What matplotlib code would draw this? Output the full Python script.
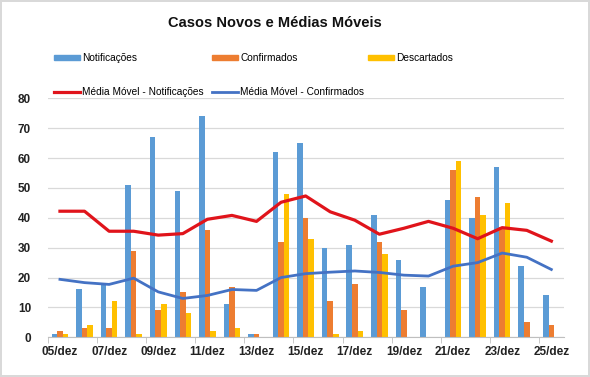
import numpy as np
import matplotlib
matplotlib.use("Agg")
import matplotlib.pyplot as plt
from matplotlib.lines import Line2D
from matplotlib.patches import Patch

plt.rcParams['font.family'] = ['Liberation Sans', 'DejaVu Sans']

dias = ["05/dez", "06/dez", "07/dez", "08/dez", "09/dez", "10/dez", "11/dez",
        "12/dez", "13/dez", "14/dez", "15/dez", "16/dez", "17/dez", "18/dez",
        "19/dez", "20/dez", "21/dez", "22/dez", "23/dez", "24/dez", "25/dez"]
notificacoes = [1, 16, 18, 51, 67, 49, 74, 11, 1, 62, 65, 30, 31, 41, 26, 17, 46, 40, 57, 24, 14]
confirmados = [2, 3, 3, 29, 9, 15, 36, 17, 1, 32, 40, 12, 18, 32, 9, 0, 56, 47, 37, 5, 4]
descartados = [1, 4, 12, 1, 11, 8, 2, 3, 0, 48, 33, 1, 2, 28, 0, 0, 59, 41, 45, 0, 0]
mm_notificacoes = [42.2, 42.2, 35.5, 35.5, 34.2, 34.7, 39.5, 40.8, 38.8, 45.2, 47.3,
                   42.0, 39.2, 34.5, 36.5, 38.8, 36.5, 33.0, 36.7, 35.8, 32.2]
mm_confirmados = [19.4, 18.3, 17.7, 19.8, 15.2, 13.0, 14.0, 16.0, 15.7, 20.0, 21.3,
                  21.8, 22.2, 21.7, 20.8, 20.5, 23.8, 25.0, 28.2, 26.8, 22.7]

C_NOT = "#5B9BD5"
C_CONF = "#ED7D31"
C_DESC = "#FFC000"
C_MMN = "#E0141B"
C_MMC = "#4472C4"

fig = plt.figure(figsize=(5.9, 3.77), dpi=100)
fig.patch.set_edgecolor("#d9d9d9")
fig.patch.set_linewidth(1.5)
ax = fig.add_axes([0.0808, 0.1053, 0.8745, 0.634])

x = np.arange(len(dias))
w = 0.225
ax.bar(x - w, notificacoes, w, color=C_NOT, zorder=2)
ax.bar(x, confirmados, w, color=C_CONF, zorder=2)
ax.bar(x + w, descartados, w, color=C_DESC, zorder=2)
ax.plot(x, mm_notificacoes, color=C_MMN, lw=2.3, zorder=3)
ax.plot(x, mm_confirmados, color=C_MMC, lw=2.0, zorder=3)

ax.set_xlim(-0.5, len(dias) - 0.5)
ax.set_ylim(0, 80)
ax.set_yticks(range(0, 81, 10))
ax.yaxis.grid(True, color="#d9d9d9", lw=0.9, zorder=0)
for s in ["top", "right", "left"]:
    ax.spines[s].set_visible(False)
ax.spines["bottom"].set_color("#bfbfbf")
ax.set_xticks(x[::2])
ax.set_xticklabels(dias[::2])
ax.set_xticks(x[::2] - 0.5, minor=True)
ax.tick_params(axis="x", which="major", length=0, pad=6)
ax.tick_params(axis="x", which="minor", length=4, color="#bfbfbf")
ax.tick_params(axis="y", length=0, pad=12)
for lab in ax.get_xticklabels() + ax.get_yticklabels():
    lab.set_fontsize(8.5)
    lab.set_fontweight("bold")
    lab.set_color("#222222")

fig.text(275 / 590, 1 - 23 / 377, "Casos Novos e Médias Móveis", ha="center", va="center",
         fontsize=10.5, fontweight="bold", color="#111111")

# legend: three fixed columns like the original layout
cols = [
    (54, [Patch(color=C_NOT), Line2D([], [], color=C_MMN, lw=2.3)],
     ["Notificações", "Média Móvel - Notificações"]),
    (212, [Patch(color=C_CONF), Line2D([], [], color=C_MMC, lw=2.0)],
     ["Confirmados", "Média Móvel - Confirmados"]),
    (368, [Patch(color=C_DESC)], ["Descartados"]),
]
for xpix, hs, ls in cols:
    fig.legend(hs, ls, loc="upper left", bbox_to_anchor=(xpix / 590, 1 - 53 / 377),
               frameon=False, fontsize=7.3, handlelength=2.6, handleheight=0.45,
               handletextpad=0.2, labelspacing=2.4, borderpad=0, borderaxespad=0)

fig.savefig("out.png", dpi=100)
